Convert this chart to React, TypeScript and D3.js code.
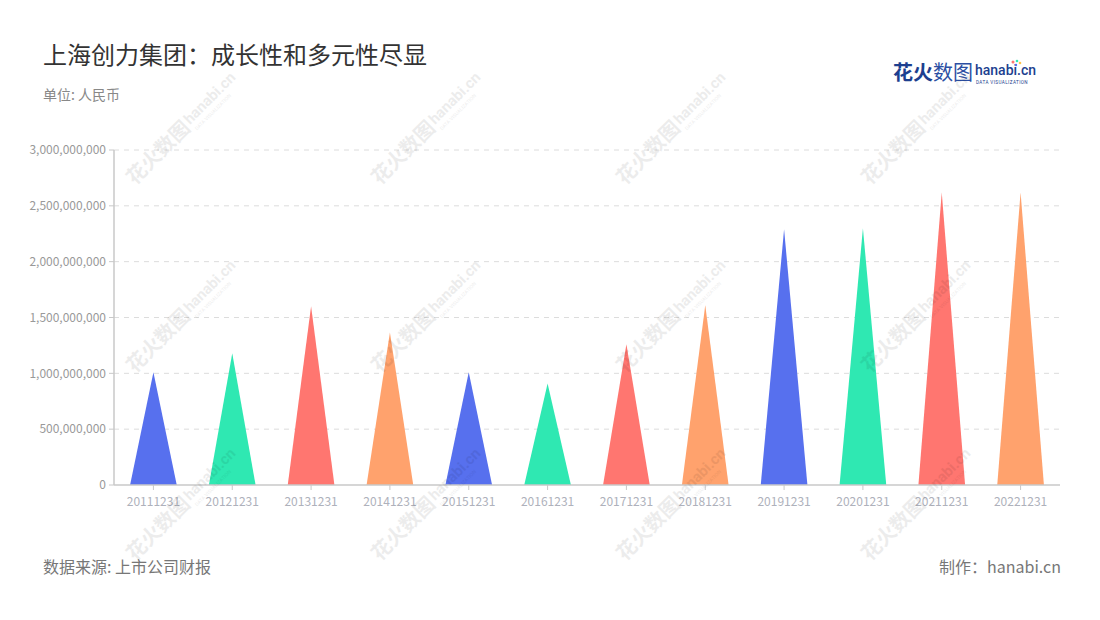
import React from 'react';
import * as d3 from 'd3';

const categories = ['20111231', '20121231', '20131231', '20141231', '20151231', '20161231',
  '20171231', '20181231', '20191231', '20201231', '20211231', '20221231'];
const revenue = [1.01e9, 1.18e9, 1.6e9, 1.365e9, 1.01e9, 0.91e9, 1.26e9, 1.61e9, 2.29e9, 2.3e9, 2.62e9, 2.62e9];
const yTicks = [0, 5e8, 1e9, 1.5e9, 2e9, 2.5e9, 3e9];
const palette = ['#5770ee', '#2fe8b2', '#ff7670', '#ffa26d'];

const W = 1100;
const H = 620;
const margin = { left: 114, right: 1060, top: 150, bottom: 485 };
const FONT = '"Noto Sans CJK SC", "Noto Sans", sans-serif';

const wmCols = [180, 425, 670, 915];
const wmRows = [132, 320, 508];

const Watermark: React.FC<{ x: number; y: number }> = ({ x, y }) => (
  <g transform={`translate(${x},${y}) rotate(-45)`} fill="#000" opacity={0.07} fontFamily={FONT}>
    <text x={-70} y={6} fontSize={20} fontWeight={700}>花火数图</text>
    <text x={12} y={2} fontSize={15} fontWeight={700} fontFamily="Roboto, sans-serif">hanabi.cn</text>
    <text x={13} y={11} fontSize={5} fontFamily="Roboto, sans-serif">DATA VISUALIZATION</text>
  </g>
);

export default function App() {
  const x = d3.scaleBand<string>().domain(categories).range([margin.left, margin.right]);
  const y = d3.scaleLinear().domain([0, 3e9]).range([margin.bottom, margin.top]);
  const half = x.bandwidth() * 0.296;
  const fmt = d3.format(',');

  return (
    <svg width={W} height={H} style={{ display: 'block', margin: -8 }} fontFamily={FONT}>
      <rect width={W} height={H} fill="#fff" />
      {/* title */}
      <text x={43} y={64} fontSize={24} fill="#333">上海创力集团：成长性和多元性尽显</text>
      <text x={43} y={100} fontSize={14} fill="#888">单位: 人民币</text>

      {/* logo */}
      <g>
        <text x={893} y={80} fontSize={20} fontWeight={700} fill="#1d3f8f">花火</text>
        <text x={933} y={80} fontSize={20} fill="#2c4fa3">数图</text>
        <text x={975} y={75} fontSize={14} fontWeight={500} fill="#1d3f8f" fontFamily="Roboto, sans-serif">hanabi.cn</text>
        <text x={976} y={83.5} fontSize={4.6} fill="#1d3f8f" fontFamily="Roboto, sans-serif" letterSpacing={0.4}>DATA VISUALIZATION</text>
        <circle cx={1013} cy={62} r={1.5} fill="#ff7670" />
        <circle cx={1017} cy={61} r={1.3} fill="#2fe8b2" />
        <circle cx={1020} cy={63} r={1.3} fill="#ffc34d" />
        <circle cx={1016} cy={65} r={1.2} fill="#5770ee" />
      </g>

      {/* grid */}
      {yTicks.map(t => (
        <g key={t}>
          {t > 0 && (
            <line x1={margin.left} x2={margin.right} y1={y(t)} y2={y(t)} stroke="#dcdcdc" strokeDasharray="5,5" />
          )}
          <line x1={margin.left - 5} x2={margin.left} y1={y(t)} y2={y(t)} stroke="#c8c8c8" />
          <text x={margin.left - 8} y={y(t)} dy="0.35em" textAnchor="end" fontSize={12} fill="#999">{fmt(t)}</text>
        </g>
      ))}

      {/* triangles */}
      {categories.map((c, i) => {
        const cx = x(c)! + x.bandwidth() / 2;
        const path = `M${cx - half},${y(0)}L${cx},${y(revenue[i])}L${cx + half},${y(0)}Z`;
        return <path key={c} d={path} fill={palette[i % palette.length]} />;
      })}

      {/* axes */}
      <line x1={margin.left} x2={margin.left} y1={margin.top} y2={margin.bottom} stroke="#c8c8c8" strokeWidth={1.5} />
      <line x1={margin.left} x2={margin.right} y1={margin.bottom} y2={margin.bottom} stroke="#c8c8c8" strokeWidth={1.5} />
      {categories.map(c => {
        const cx = x(c)! + x.bandwidth() / 2;
        return (
          <g key={c}>
            <line x1={cx} x2={cx} y1={margin.bottom} y2={margin.bottom + 5} stroke="#c8c8c8" />
            <text x={cx} y={margin.bottom + 21} textAnchor="middle" fontSize={12} fill="#aeb1bb">{c}</text>
          </g>
        );
      })}

      {/* watermarks */}
      {wmRows.map(r => wmCols.map(cl => <Watermark key={`${r}-${cl}`} x={cl} y={r} />))}

      {/* footer */}
      <text x={43} y={573} fontSize={16} fill="#777">数据来源: 上市公司财报</text>
      <text x={1061} y={573} fontSize={16} fill="#777" textAnchor="end">制作：hanabi.cn</text>
    </svg>
  );
}
